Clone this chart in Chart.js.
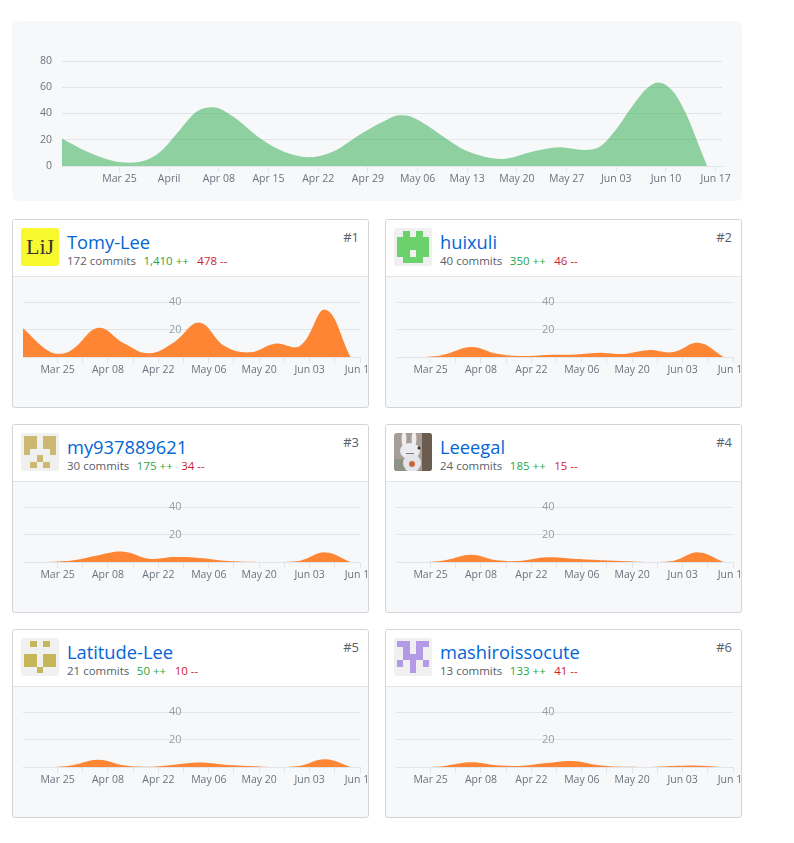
<!DOCTYPE html>
<html><head><meta charset="utf-8">
<style>
html,body{margin:0;padding:0;background:#fff;width:794px;height:843px;overflow:hidden;font-family:"Open Sans",sans-serif}
#main{position:absolute;left:12px;top:21px;width:730px;height:180px;background:#f6f8fa;border-radius:6px}
#main canvas{position:absolute;left:0;top:0}
.card{position:absolute;width:357px;height:189px;box-sizing:border-box;border:1px solid #d1d5da;border-radius:3px;overflow:hidden;background:#f6f8fa}
.head{position:absolute;left:0;top:0;right:0;height:57px;background:#fff;border-bottom:1px solid #e1e4e8;box-sizing:border-box}
.card canvas{position:absolute;left:0;top:57px}
.av{position:absolute;left:8px;top:8px;width:38px;height:38px;border-radius:3px;overflow:hidden}
.name{position:absolute;left:54px;top:8px;font-size:18.3px;line-height:28px;color:#0366d6;white-space:nowrap}
.meta{position:absolute;left:54px;top:33px;font-size:11.5px;line-height:16px;color:#586069;white-space:nowrap}
.add{color:#28a745;margin-left:7.5px}.del{color:#cb2431;margin-left:8.5px}
.rank{position:absolute;right:9px;top:8px;font-size:13px;line-height:18px;color:#586069}
</style>
<script src="https://cdn.jsdelivr.net/npm/chart.js@4"></script>
</head><body>
<div id="main"><canvas id="mainChart" width="730" height="180"></canvas></div>
<div id="cards"></div>
<script>
// Day offsets are counted from Mar 25
const mainDays   = [-8.1,-4.6,-1,1.5,4.3,6,8.5,10.9,13.2,16,18.9,20,23.1,26.6,30.1,34,37.2,39.5,41,43.3,45.6,48,50.8,53.9,58.3,62,65.4,67.7,70,72.4,74.3,75.9,78,79.9,81.8,82.8];
const mainValues = [21,11,4,2.5,5.8,12,27.5,41.5,44.8,37.7,25,20.4,11,6.6,11,24.4,34,38.7,37.7,31,22.4,14,8,5.3,11,14.2,12.2,14.8,28,46.6,59,63.6,56.7,39,13.5,0];
const mainTickDays   = [0,7,14,21,28,35,42,49,56,63,70,77,84];
const mainTickLabels = ["Mar 25","April","Apr 08","Apr 15","Apr 22","Apr 29","May 06","May 13","May 20","May 27","Jun 03","Jun 10","Jun 17"];
const mainYTicks = [0,20,40,60,80];

const cardDays = [-9.6,-2.6,1.1,4.4,11.4,18.4,25.4,32.4,39.4,46.4,53.4,60.4,67.4,74.4,81.4];
const cardTickDays   = [0,7,14,21,28,35,42,49,56,63,70,77,84];
const cardTickLabels = ["Mar 25","","Apr 08","","Apr 22","","May 06","","May 20","","Jun 03","","Jun 17"];
const cardYTicks = [0,20,40];

const tomyValues     = [21,4.5,2.4,6,21.3,10,2.7,10.8,25,8,3.4,9.7,8.2,34.4,0];
const huixuliValues  = [0,0,0.5,2.2,7.3,2.4,0.7,1.5,1.7,3,2.2,5,3.6,10.4,0];
const myValues       = [0,0,0.5,1.2,5,7.5,2.4,3.6,3,1,0.2,0,1,7,0];
const leeegalValues  = [0,0,0.4,1.5,5.3,1.2,1,3.4,2.4,1.5,0.7,0,0.8,7,0];
const latitudeValues = [0,0,0.4,1.5,5.3,1.2,0.2,1.7,3.2,1.7,0.7,0,1,5.6,0];
const mashiroValues  = [0,0,0.2,1,3.4,1.2,1,2.9,4.4,1.5,0.1,0,0.7,1,0];

const names   = ["Tomy-Lee","huixuli","my937889621","Leeegal","Latitude-Lee","mashiroissocute"];
const commits = ["172 commits","40 commits","30 commits","24 commits","21 commits","13 commits"];
const adds    = ["1,410 ++","350 ++","175 ++","185 ++","50 ++","133 ++"];
const dels    = ["478 --","46 --","34 --","15 --","10 --","41 --"];
const cardSeries = [tomyValues,huixuliValues,myValues,leeegalValues,latitudeValues,mashiroValues];

const huixuliIcon  = [".#.#.","#####","#####","##.##",".###."];
const myIcon       = ["##.##","##.##","#...#","..#..",".#.#."];
const latitudeIcon = [".#.#.",".....","##.##","##.##","..#.."];
const mashiroIcon  = ["##.##",".#.#.",".###.","#.#.#","..#.."];

function identicon(rows,color){
  let r='';
  rows.forEach((row,y)=>[...row].forEach((c,x)=>{ if(c==='#') r+=`<rect x="${3+x*6.4}" y="${3+y*6.4}" width="6.4" height="6.4" fill="${color}" shape-rendering="crispEdges"/>`; }));
  return `<svg width="38" height="38" viewBox="0 0 38 38"><rect width="38" height="38" fill="#f0f0f0"/>${r}</svg>`;
}
const lijAvatar = `<svg width="38" height="38" viewBox="0 0 38 38"><rect width="38" height="38" fill="#f8f82e"/><text x="19" y="26" text-anchor="middle" font-family="Liberation Serif" font-size="22" fill="#333">LiJ</text></svg>`;
const rabbitAvatar = `<svg width="38" height="38" viewBox="0 0 38 38"><rect width="38" height="38" fill="#a89d94"/><rect x="28" width="10" height="38" fill="#6b5c50"/><rect y="26" width="12" height="12" fill="#8d9284"/><ellipse cx="10" cy="6" rx="2.4" ry="8" fill="#f1ecef"/><ellipse cx="20" cy="6" rx="2.4" ry="8" fill="#f1ecef"/><ellipse cx="16" cy="18" rx="10" ry="8" fill="#ebebf0"/><ellipse cx="18" cy="30" rx="9" ry="9" fill="#e4e4ea"/><circle cx="25" cy="15" r="1.5" fill="#333"/><rect x="12" y="20" width="8" height="1" fill="#777"/><circle cx="18" cy="31" r="3" fill="#c8683a"/></svg>`;
const avatars = [lijAvatar,identicon(huixuliIcon,"#6bd16b"),identicon(myIcon,"#cdb872"),rabbitAvatar,identicon(latitudeIcon,"#c5b65a"),identicon(mashiroIcon,"#b39ae6")];

Chart.defaults.font.family = '"Open Sans",sans-serif';
Chart.defaults.devicePixelRatio = 1;
const GRID = '#e1e4e8';

function pts(xs,ys){ return xs.map((x,i)=>({x,y:ys[i]})); }

function makeChart(canvas,cfg){
  return new Chart(canvas,{
    type:'line',
    data:{datasets:[Object.assign({data:pts(cfg.days,cfg.values),borderWidth:0,pointRadius:0,fill:'origin',
      backgroundColor:cfg.fill},cfg.curve)]},
    options:{
      responsive:false,animation:false,events:[],
      layout:{padding:cfg.padding},
      plugins:{legend:{display:false},tooltip:{enabled:false}},
      scales:{
        x:{type:'linear',min:cfg.xMin,max:cfg.xMax,
          afterBuildTicks:s=>{s.ticks=cfg.xTicks.map(v=>({value:v}));},
          afterFit:s=>{s.height=cfg.xHeight;},
          grid:{drawOnChartArea:false,drawTicks:true,tickLength:6,color:GRID},
          border:{color:GRID},
          ticks:{autoSkip:false,maxRotation:0,minRotation:0,padding:1,color:'#6a737d',font:{size:10.5},
            callback:(v,i)=>cfg.xLabels[i]}},
        y:{min:0,max:cfg.yMax,
          afterBuildTicks:s=>{s.ticks=cfg.yTicks.map(v=>({value:v}));},
          afterFit:s=>{s.width=cfg.yWidth;s.paddingTop=0;s.paddingBottom=0;},
          grid:{drawTicks:false,color:GRID},
          border:{display:false},
          ticks:Object.assign({color:cfg.yColor,font:{size:cfg.yFont},callback:cfg.yCb},cfg.yTickOpts)}
      }
    }
  });
}

makeChart(document.getElementById('mainChart'),{
  days:mainDays,values:mainValues,fill:'rgba(40,167,69,0.5)',curve:{cubicInterpolationMode:'monotone'},
  padding:{top:40,right:20,left:0,bottom:0},xMin:-8.1,xMax:84.9,xTicks:mainTickDays,xLabels:mainTickLabels,xHeight:35,
  yMax:80,yTicks:mainYTicks,yWidth:50,yColor:'#6a737d',yFont:10.5,yCb:v=>String(v),yTickOpts:{padding:10}
});

const cardsEl=document.getElementById('cards');
names.forEach((n,i)=>{
  const col=i%2,row=Math.floor(i/2);
  const d=document.createElement('div');
  d.className='card';
  d.style.left=(col?385:12)+'px';
  d.style.top=(219+row*205)+'px';
  d.innerHTML=`<div class="head"><div class="av">${avatars[i]}</div><div class="name">${n}</div>
    <div class="meta">${commits[i]}<span class="add">${adds[i]}</span><span class="del">${dels[i]}</span></div>
    <div class="rank">#${i+1}</div></div><canvas width="420" height="130"></canvas>`;
  cardsEl.appendChild(d);
  makeChart(d.querySelector('canvas'),{
    days:cardDays,values:cardSeries[i],fill:'#fe8533',curve:{tension:0.4},
    padding:{top:25,right:73,left:10,bottom:0},xMin:-9.6,xMax:84,xTicks:cardTickDays,xLabels:cardTickLabels,xHeight:50,
    yMax:40,yTicks:cardYTicks,yWidth:0,yColor:'#959da5',yFont:11,yCb:v=>v===0?'':String(v),yTickOpts:{mirror:true,padding:146}
  });
});
</script>
</body></html>
